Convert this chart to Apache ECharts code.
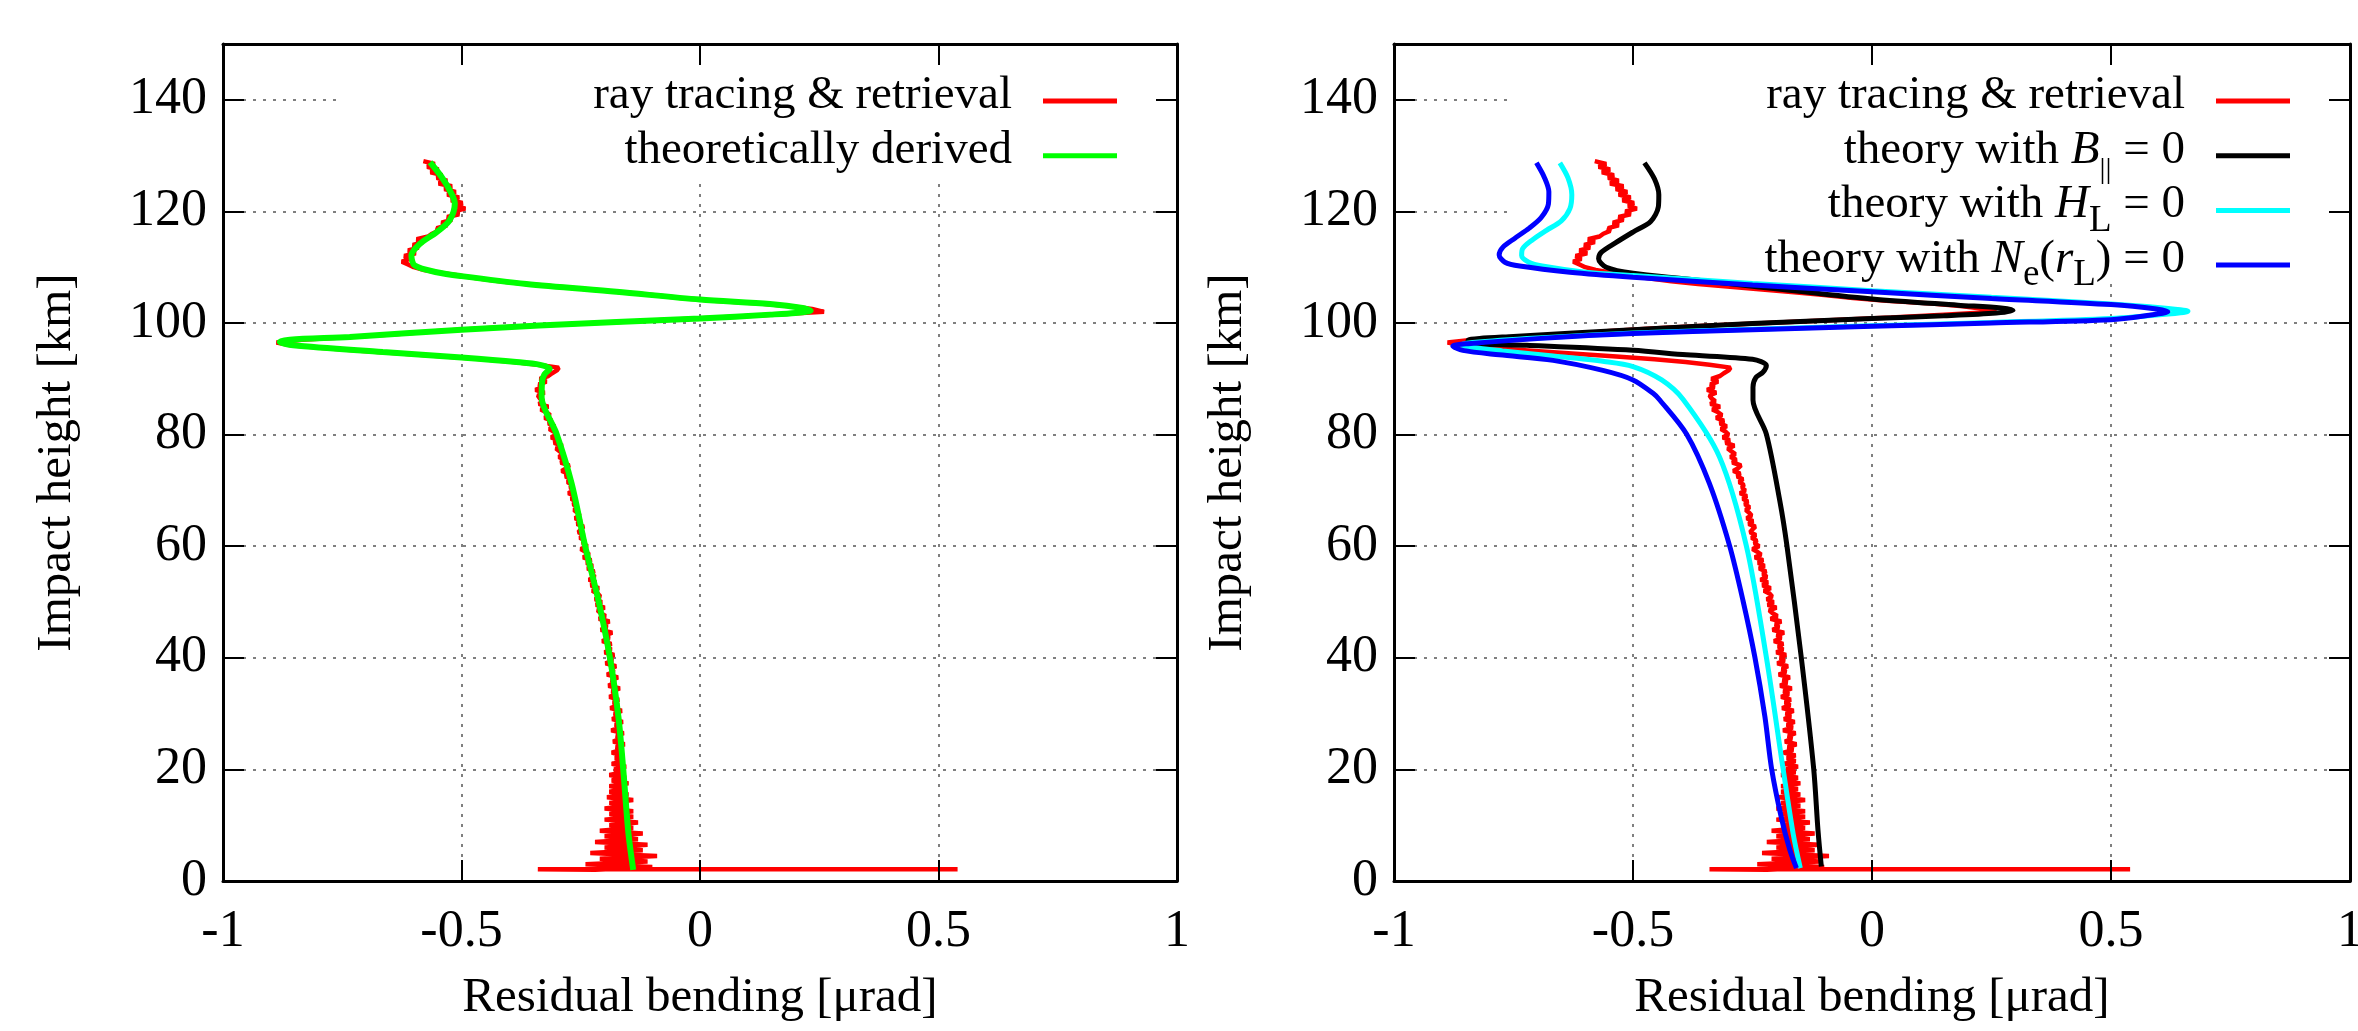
<!DOCTYPE html>
<html>
<head>
<meta charset="utf-8">
<title>Residual bending versus impact height</title>
<script src="https://cdn.jsdelivr.net/npm/echarts@6.0.0/dist/echarts.min.js"></script>
<style>
    html, body { margin: 0; padding: 0; background: #fff; }
    #chart { width: 2358px; height: 1031px; }
</style>
</head>
<body>
<div id="chart"></div>
<script>
// x = residual bending [µrad], y = impact height [km]

const xTicks = [-1, -0.5, 0, 0.5, 1];
const yTicks = [0, 20, 40, 60, 80, 100, 120, 140];
const yTop = 150;

// ray tracing & retrieval: one value every 0.5 km, from 2 km up to 129 km
const redStartKm = 2;
const redStepKm = 0.5;
const redX = [
    -0.22, -0.10, -0.24, -0.11, -0.21, -0.09, -0.23, -0.12, -0.20, -0.11,   // 2 - 6.5
    -0.22, -0.13, -0.20, -0.12, -0.21, -0.14, -0.19, -0.13, -0.20, -0.14,   // 7 - 11.5
    -0.19, -0.14, -0.20, -0.15, -0.19, -0.14, -0.195, -0.15, -0.19, -0.155, // 12 - 16.5
    -0.19, -0.15, -0.185, -0.155, -0.19, -0.16, -0.18, -0.155, -0.185, -0.16, // 17 - 21.5
    -0.178, -0.160, -0.185, -0.165, -0.176, -0.158, -0.182, -0.168, -0.175, -0.160, // 22 - 26.5
    -0.186, -0.166, -0.178, -0.162, -0.184, -0.170, -0.180, -0.164, -0.188, -0.171, // 27 - 31.5
    -0.182, -0.170, -0.190, -0.174, -0.185, -0.168, -0.192, -0.178, -0.186, -0.172, // 32 - 36.5
    -0.195, -0.180, -0.188, -0.176, -0.198, -0.183, -0.192, -0.180, -0.200, -0.186, // 37 - 41.5
    -0.196, -0.186, -0.205, -0.190, -0.199, -0.184, -0.208, -0.195, -0.202, -0.190, // 42 - 46.5
    -0.212, -0.198, -0.208, -0.215, -0.200, -0.218, -0.206, -0.220, -0.209, -0.214, // 47 - 51.5
    -0.226, -0.212, -0.229, -0.218, -0.233, -0.220, -0.228, -0.222, -0.236, -0.225, // 52 - 56.5
    -0.238, -0.228, -0.245, -0.232, -0.240, -0.250, -0.236, -0.246, -0.241, -0.252, // 57 - 61.5
    -0.243, -0.255, -0.250, -0.244, -0.258, -0.249, -0.262, -0.252, -0.257, -0.264, // 62 - 66.5
    -0.256, -0.266, -0.260, -0.270, -0.262, -0.276, -0.265, -0.272, -0.268, -0.278, // 67 - 71.5
    -0.270, -0.282, -0.276, -0.290, -0.280, -0.274, -0.292, -0.284, -0.296, -0.286, // 72 - 76.5
    -0.294, -0.302, -0.288, -0.306, -0.298, -0.312, -0.300, -0.306, -0.316, -0.304, // 77 - 81.5
    -0.318, -0.310, -0.326, -0.314, -0.322, -0.334, -0.318, -0.338, -0.328, -0.336, // 82 - 86.5
    -0.340, -0.326, -0.345, -0.330, -0.338, -0.322, -0.336, -0.318, -0.310, -0.300, // 87 - 91.5
    -0.296, -0.340, -0.390, -0.455, -0.535, -0.620, -0.705, -0.790, -0.857, -0.888, // 92 - 96.5
    -0.835, -0.735, -0.640, -0.555, -0.460, -0.350, -0.220, -0.090, 0.040, 0.150,   // 97 - 101.5
    0.260, 0.235, 0.190, 0.125, 0.030, -0.040, -0.100, -0.163, -0.230, -0.297,      // 102 - 106.5
    -0.364, -0.420, -0.468, -0.505, -0.545, -0.578, -0.600, -0.612, -0.625, -0.608, // 107 - 111.5
    -0.620, -0.596, -0.612, -0.590, -0.602, -0.580, -0.594, -0.570, -0.562, -0.548, // 112 - 116.5
    -0.552, -0.530, -0.542, -0.520, -0.530, -0.505, -0.516, -0.492, -0.510, -0.498, // 117 - 121.5
    -0.522, -0.505, -0.530, -0.512, -0.536, -0.520, -0.548, -0.530, -0.552, -0.540, // 122 - 126.5
    -0.565, -0.548, -0.572, -0.556, -0.580                                          // 127 - 129
];
// flat spike at the bottom of the retrieved profile
const redSpike = [[0.54, 2.1], [-0.34, 2.1]];

// theoretically derived (left panel)
const greenTheory = [
    [-0.566, 128.8], [-0.542, 126.2], [-0.521, 123.2], [-0.514, 121.4], [-0.525, 118.4],
    [-0.552, 116.3], [-0.587, 114.2], [-0.605, 112.1], [-0.598, 110.3], [-0.552, 109.1],
    [-0.500, 108.4], [-0.364, 107.0], [-0.175, 105.6], [0.000, 104.2], [0.147, 103.4],
    [0.215, 102.7], [0.232, 102.2], [0.200, 101.8], [0.147, 101.5], [0.000, 100.8],
    [-0.175, 100.2], [-0.500, 98.8], [-0.734, 97.5], [-0.860, 97.0], [-0.881, 96.6],
    [-0.853, 96.0], [-0.665, 94.8], [-0.500, 93.8], [-0.385, 93.0], [-0.335, 92.5],
    [-0.315, 91.8], [-0.326, 90.8], [-0.331, 89.5], [-0.332, 86.7], [-0.301, 80.2],
    [-0.269, 71.2], [-0.241, 60.1], [-0.213, 50.3], [-0.189, 40.1], [-0.171, 29.4],
    [-0.161, 20.1], [-0.150, 8.5], [-0.140, 2.0]
];

// theory with B|| = 0 (right panel)
const blackNoB = [
    [-0.476, 128.7], [-0.455, 125.8], [-0.446, 123.0], [-0.447, 120.8], [-0.463, 118.2],
    [-0.500, 116.3], [-0.536, 114.4], [-0.566, 112.7], [-0.572, 111.5], [-0.556, 110.0],
    [-0.500, 108.9], [-0.388, 107.9], [-0.250, 106.6], [0.000, 104.3], [0.180, 103.2],
    [0.270, 102.7], [0.295, 102.3], [0.260, 101.8], [0.150, 101.3], [0.000, 100.8],
    [-0.250, 99.9], [-0.500, 98.8], [-0.750, 97.6], [-0.845, 96.9], [-0.845, 96.4],
    [-0.722, 96.0], [-0.500, 95.1], [-0.388, 94.3], [-0.250, 93.5], [-0.221, 92.4],
    [-0.228, 91.2], [-0.243, 90.2], [-0.249, 88.5], [-0.249, 86.2], [-0.221, 80.1],
    [-0.193, 68.2], [-0.178, 60.1], [-0.148, 40.1], [-0.122, 20.1], [-0.113, 9.1],
    [-0.106, 2.6]
];

// theory with H_L = 0
const cyanNoH = [
    [-0.653, 128.7], [-0.636, 126.0], [-0.628, 123.0], [-0.632, 120.5], [-0.650, 118.3],
    [-0.681, 116.6], [-0.712, 114.8], [-0.731, 113.3], [-0.733, 112.1], [-0.718, 110.9],
    [-0.690, 110.2], [-0.600, 109.1], [-0.500, 108.5], [-0.250, 107.1], [0.000, 105.8],
    [0.250, 104.6], [0.500, 103.4], [0.620, 102.6], [0.661, 102.1], [0.620, 101.6],
    [0.500, 100.8], [0.250, 100.1], [0.000, 99.5], [-0.250, 98.9], [-0.500, 98.2],
    [-0.700, 97.3], [-0.835, 96.5], [-0.860, 96.1], [-0.835, 95.6], [-0.773, 95.0],
    [-0.667, 94.1], [-0.560, 93.1], [-0.500, 92.2], [-0.440, 89.8], [-0.395, 86.3],
    [-0.319, 76.0], [-0.263, 60.1], [-0.221, 40.1], [-0.186, 20.1], [-0.165, 8.5],
    [-0.150, 2.3]
];

// theory with N_e(r_L) = 0
const blueNoNe = [
    [-0.702, 128.7], [-0.685, 126.0], [-0.676, 123.5], [-0.677, 121.3], [-0.692, 118.9],
    [-0.717, 117.0], [-0.747, 115.2], [-0.772, 113.6], [-0.780, 112.2], [-0.768, 110.9],
    [-0.737, 110.2], [-0.632, 109.1], [-0.500, 108.2], [-0.250, 106.8], [0.000, 105.6],
    [0.250, 104.4], [0.500, 103.3], [0.595, 102.5], [0.619, 102.0], [0.580, 101.4],
    [0.500, 100.6], [0.250, 100.0], [0.000, 99.4], [-0.250, 98.8], [-0.500, 98.1],
    [-0.700, 97.2], [-0.845, 96.3], [-0.877, 95.9], [-0.856, 95.1], [-0.780, 94.3],
    [-0.667, 93.3], [-0.563, 91.5], [-0.500, 89.8], [-0.458, 87.4], [-0.444, 86.2],
    [-0.388, 80.1], [-0.340, 71.2], [-0.298, 60.1], [-0.270, 50.3], [-0.245, 40.1],
    [-0.224, 29.4], [-0.210, 20.1], [-0.190, 11.5], [-0.172, 5.6], [-0.158, 2.3]
];

const NAME_RED = 'ray tracing & retrieval';
const NAME_GREEN = 'theoretically derived';
const NAME_B = 'theory with B|| = 0';
const NAME_H = 'theory with H_L = 0';
const NAME_N = 'theory with N_e(r_L) = 0';

const serif = 'Liberation Serif';
const tickSize = 52;   // tick labels
const titleSize = 49;  // axis titles
const keySize = 47;    // key text

window.onload = init;

function init() {
    let chart = echarts.init(document.getElementById('chart'));
    chart.setOption(buildOption());
}

// three x axes and three y axes per panel:
// 0 = border, ticks and labels (above the key box), 1 = mirrored border/ticks, 2 = dotted grid (below the key box)
function panelAxes(g) {
    let tickStyle = {show: true, inside: true, length: 21, lineStyle: {color: '#000', width: 2}};
    let lineStyle = {show: true, onZero: false, lineStyle: {color: '#000', width: 3}};
    let noLine = {show: false, onZero: false};
    let gridStyle = {show: true, lineStyle: {color: '#555', width: 1.5, type: [3, 7]}};
    let tickFont = {color: '#000', fontFamily: serif, fontSize: tickSize};
    let titleFont = {color: '#000', fontFamily: serif, fontSize: titleSize};
    let xBase = {type: 'value', gridIndex: g, min: xTicks[0], max: xTicks[xTicks.length - 1], interval: xTicks[1] - xTicks[0]};
    let yBase = {type: 'value', gridIndex: g, min: yTicks[0], max: yTop, interval: yTicks[1] - yTicks[0]};

    let x = [
        Object.assign({}, xBase, {
            position: 'bottom', z: 3,
            axisLine: lineStyle, axisTick: tickStyle, splitLine: {show: false},
            axisLabel: Object.assign({margin: 25, showMinLabel: true, showMaxLabel: true}, tickFont),
            name: 'Residual bending [μrad]', nameLocation: 'middle', nameGap: 93, nameMoveOverlap: false,
            nameTextStyle: titleFont
        }),
        Object.assign({}, xBase, {
            position: 'top', z: 3,
            axisLine: lineStyle, axisTick: tickStyle, axisLabel: {show: false}, splitLine: {show: false}
        }),
        Object.assign({}, xBase, {
            position: 'bottom', z: 0,
            axisLine: noLine, axisTick: {show: false}, axisLabel: {show: false}, splitLine: gridStyle
        })
    ];
    let y = [
        Object.assign({}, yBase, {
            position: 'left', z: 3,
            axisLine: lineStyle, axisTick: tickStyle, splitLine: {show: false},
            axisLabel: Object.assign({margin: 16, showMinLabel: true, showMaxLabel: false}, tickFont),
            name: 'Impact height [km]', nameLocation: 'middle', nameGap: 141, nameRotate: 90, nameMoveOverlap: false,
            nameTextStyle: titleFont
        }),
        Object.assign({}, yBase, {
            position: 'right', z: 3,
            axisLine: lineStyle, axisTick: tickStyle, axisLabel: {show: false}, splitLine: {show: false}
        }),
        Object.assign({}, yBase, {
            position: 'left', z: 0,
            axisLine: noLine, axisTick: {show: false}, axisLabel: {show: false}, splitLine: gridStyle
        })
    ];
    return {x: x, y: y};
}

function curve(name, data, color, width, g, smooth) {
    return {
        name: name, type: 'line', data: data,
        xAxisIndex: g * 3, yAxisIndex: g * 3,
        showSymbol: false, symbol: 'none', smooth: smooth, z: 2,
        lineStyle: {color: color, width: width},
        itemStyle: {color: color},
        emphasis: {disabled: true}
    };
}

function legendLabel(name) {
    if (name === NAME_B) return '{n|theory with }{i|B}{bar|||}{n| = 0}';
    if (name === NAME_H) return '{n|theory with }{i|H}{sub|L}{n| = 0}';
    if (name === NAME_N) return '{n|theory with }{i|N}{sub|e}{n|(}{i|r}{sub|L}{n|) = 0}';
    // zero-width subscript token so that every key row has the same height
    return '{n|' + name + '}{sub|\u200b}';
}

function makeLegend(names, right) {
    // every token shares one 58px line: normal text sits at the top, subscripts at the bottom
    return {
        data: names, orient: 'vertical', align: 'right',
        right: right, top: 72, padding: 0, itemGap: -3.3,
        itemWidth: 74, itemHeight: 5, icon: 'rect',
        selectedMode: false, formatter: legendLabel,
        textStyle: {
            padding: [0, 26, 0, 0],
            rich: {
                n: {fontFamily: serif, fontSize: keySize, lineHeight: 58, verticalAlign: 'top', color: '#000'},
                i: {fontFamily: serif, fontSize: keySize, fontStyle: 'italic', lineHeight: 58, verticalAlign: 'top', color: '#000'},
                sub: {fontFamily: serif, fontSize: 37, lineHeight: 58, verticalAlign: 'bottom', color: '#000'},
                bar: {fontFamily: serif, fontSize: 30, lineHeight: 58, verticalAlign: 'bottom', color: '#000'}
            }
        }
    };
}

function buildOption() {
    let red = redSpike.concat(redX.map((v, i) => [v, redStartKm + i * redStepKm]));
    let a0 = panelAxes(0);
    let a1 = panelAxes(1);

    return {
        animation: false,
        backgroundColor: '#fff',
        grid: [
            {left: 223, top: 44, width: 954, height: 837, containLabel: false, outerBoundsMode: 'none'},
            {left: 1394, top: 44, width: 956, height: 837, containLabel: false, outerBoundsMode: 'none'}
        ],
        xAxis: a0.x.concat(a1.x),
        yAxis: a0.y.concat(a1.y),
        // opaque key boxes: hide the dotted grid behind the keys
        graphic: {
            elements: [
                {type: 'rect', z: 1, silent: true, shape: {x: 340, y: 45, width: 836, height: 133}, style: {fill: '#fff'}},
                {type: 'rect', z: 1, silent: true, shape: {x: 1514, y: 45, width: 835, height: 238}, style: {fill: '#fff'}}
            ]
        },
        legend: [
            makeLegend([NAME_RED, NAME_GREEN], 1241),
            makeLegend([NAME_RED, NAME_B, NAME_H, NAME_N], 68)
        ],
        series: [
            curve(NAME_RED, red, '#ff0000', 4.5, 0, false),
            curve(NAME_GREEN, greenTheory, '#00ff00', 6, 0, 0.3),
            curve(NAME_RED, red, '#ff0000', 4.5, 1, false),
            curve(NAME_B, blackNoB, '#000000', 5, 1, 0.3),
            curve(NAME_H, cyanNoH, '#00ffff', 5, 1, 0.3),
            curve(NAME_N, blueNoNe, '#0000ff', 5, 1, 0.3)
        ]
    };
}
</script>
</body>
</html>
